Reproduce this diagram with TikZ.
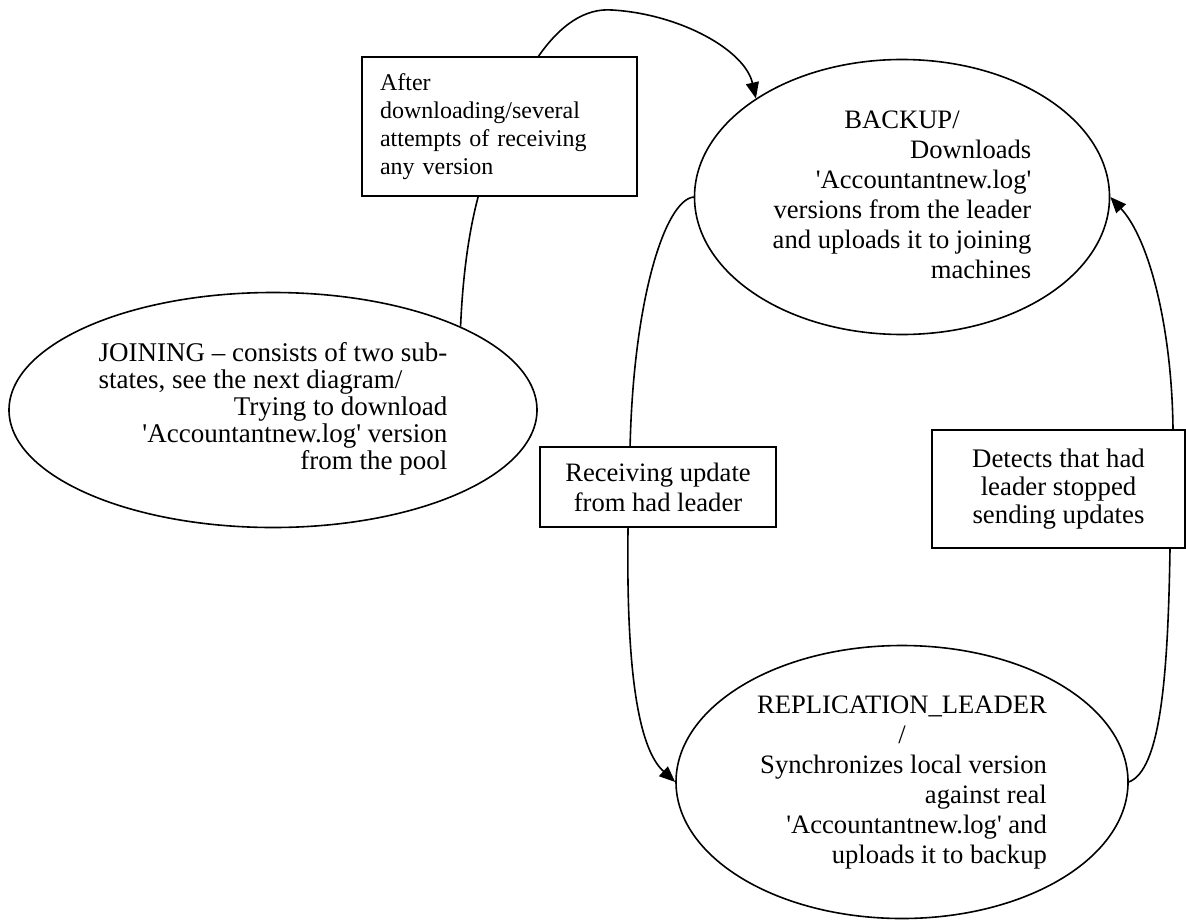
\documentclass[tikz,border=0pt]{standalone}
\usepackage{fontspec}
\setmainfont{Liberation Serif}
\usetikzlibrary{shapes.geometric, arrows.meta}
\newcommand{\logfile}{\textquotesingle Accountantnew.log\textquotesingle}

\begin{document}
\begin{tikzpicture}[
    x=0.5pt, y=-0.5pt,
    font=\fontsize{13.3}{15}\selectfont,
    state/.style={ellipse, draw, thick, inner sep=0pt},
    guard/.style={rectangle, draw, thick, fill=white, inner sep=0pt},
    arrow/.style={-{Triangle[length=8pt, width=6.5pt]}, thick}
  ]
    \useasboundingbox (0,0) rectangle (1186,920);

    % States
    \node[state, minimum width=264pt, minimum height=117.5pt,
          font=\fontsize{13.5}{13.5}\selectfont] (join) at (273,410) {%
      \begin{tabular}{@{}l@{}}
        JOINING -- consists of two sub-\\
        states, see the next diagram/\\
        \hfill Trying to download\\
        \hfill \logfile{} version\\
        \hfill from the pool
      \end{tabular}};
    \node[state, minimum width=207.5pt, minimum height=137.5pt] (backup) at (902,197) {%
      \begin{tabular}{@{}l@{}}
        \multicolumn{1}{@{}c@{}}{BACKUP/}\\
        \hfill Downloads\\
        \hfill \logfile\\
        \hfill versions from the leader\\
        \hfill and uploads it to joining\\
        \hfill machines
      \end{tabular}};
    \node[state, minimum width=226pt, minimum height=136.5pt] (repl) at (902,782) {%
      \begin{tabular}{@{}l@{}}
        \multicolumn{1}{@{}c@{}}{REPLICATION\_LEADER}\\
        \multicolumn{1}{@{}c@{}}{/}\\
        \hfill Synchronizes local version\\
        \hfill against real\\
        \hfill \logfile{} and\\
        \hfill uploads it to backup
      \end{tabular}};

    % Transitions
    \draw[arrow] (join.24) .. controls (463,270) and (470,225) .. (480,190)
        .. controls (495,150) and (515,90) .. (538,57)
        .. controls (560,25) and (585,8) .. (612,10)
        .. controls (680,14) and (745,50) .. (backup.146);
    \draw[arrow] (backup.180) .. controls (665,200) and (633,300) .. (630,450)
        -- (628,530) .. controls (626,680) and (640,750) .. (repl.180);
    \draw[arrow] (repl.0) .. controls (1160,770) and (1168,680) .. (1170,548)
        -- (1173,430) .. controls (1172,330) and (1150,240) .. (backup.0);

    % Guards
    \node[guard, minimum width=137.5pt, minimum height=69.5pt,
          text width=119.5pt, align=left, font=\fontsize{12}{14}\selectfont]
      (after) at (499.5,126.5)
      {After\\ downloading/several\\ attempts of receiving\\ any version};
    \node[guard, minimum width=118pt, minimum height=40pt, align=center] (receive) at (658,487)
      {Receiving update\\ from had leader};
    \node[guard, minimum width=126.5pt, minimum height=59pt, align=center,
          font=\fontsize{13.4}{14}\selectfont] (detect) at (1058.5,489)
      {Detects that had\\ leader stopped\\ sending updates};
  \end{tikzpicture}
\end{document}
